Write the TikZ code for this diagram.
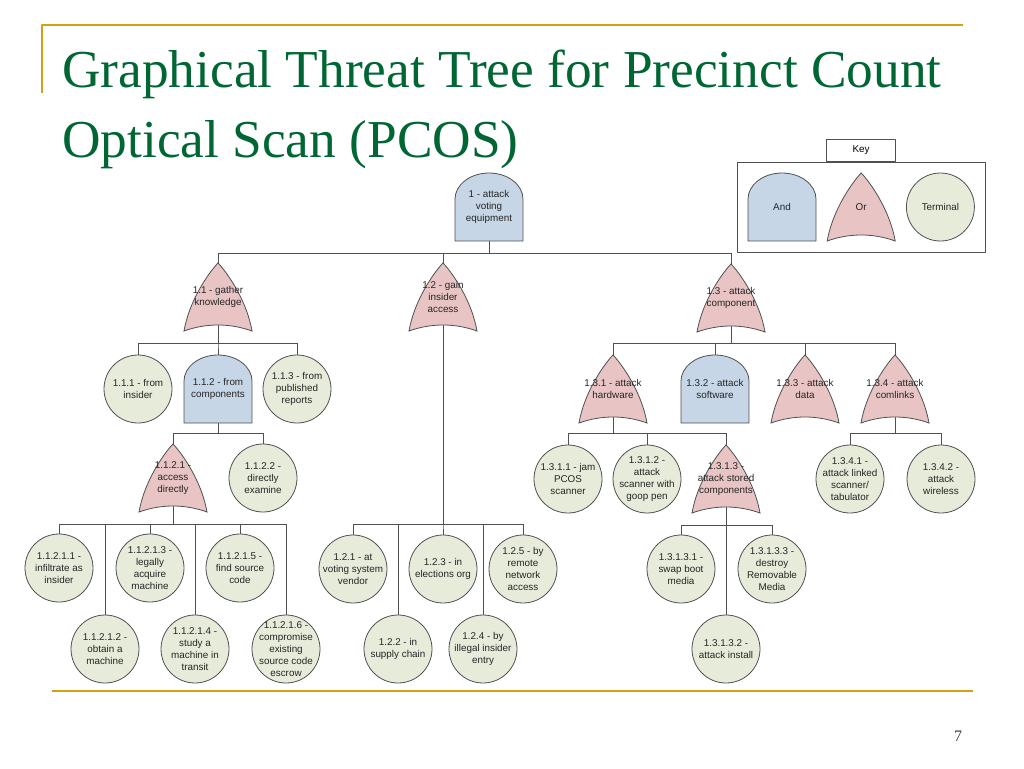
\documentclass[tikz,border=0pt]{standalone}
\usepackage{fontspec}
\setmainfont{Liberation Serif}
\setsansfont{Liberation Sans}
\usetikzlibrary{positioning,calc}
\definecolor{andblue}{RGB}{198,214,230}
\definecolor{orpink}{RGB}{232,196,196}
\definecolor{leafgreen}{RGB}{231,235,218}
\definecolor{titlegreen}{RGB}{0,102,51}
\definecolor{slidegold}{RGB}{212,160,23}
\definecolor{linegray}{RGB}{80,80,80}
\pgfdeclarelayer{back}
\pgfdeclarelayer{background}
\pgfsetlayers{back,background,main}
\tikzset{
	gate/.style     = {rectangle, minimum width=51pt, minimum height=51pt, inner sep=0pt,
		align=center, text=black!85, font=\sffamily\fontsize{7.4}{9}\selectfont},
	andnode/.style  = {gate},
	ornode/.style   = {gate},
	leafnode/.style = {gate},
	outline/.style  = {draw=linegray, line width=0.6pt},
	link/.style     = {draw=linegray, line width=0.6pt},
	goldrule/.style = {draw=slidegold, line width=1.5pt},
	title/.style    = {inner sep=0pt, text=titlegreen, font=\fontsize{40}{48}\selectfont},
	keyframe/.style = {outline, minimum width=186pt, minimum height=67.5pt, inner sep=0pt},
	keytab/.style   = {outline, minimum width=51.75pt, minimum height=16.5pt, inner sep=0pt,
		font=\sffamily\fontsize{7.4}{9}\selectfont},
	andshape/.pic   = {\draw[outline, fill=andblue] (-34,34) -- (-34,-8)
		.. controls (-34,-22) and (-19,-34) .. (0,-34)
		.. controls (19,-34) and (34,-22) .. (34,-8) -- (34,34) -- cycle;},
	orshape/.pic    = {\draw[outline, fill=orpink] (-34,34)
		.. controls (-28,0) and (-6,-28) .. (0,-34)
		.. controls (6,-28) and (28,0) .. (34,34)
		.. controls (12,26) and (-12,26) .. cycle;},
	leafshape/.pic  = {\draw[outline, fill=leafgreen] (0,0) circle[radius=25.5pt];}
}

\begin{document}
\begin{tikzpicture}[x=0.75pt, y=-0.75pt, line join=round]
	\useasboundingbox (0,0) rectangle (1024,768);
	% slide frame and title
	\draw[goldrule] (42,93) -- (42,25) -- (963,25);
	\draw[goldrule, line width=2pt] (52,691) -- (973,691);
	\node[title, anchor=base west] (title1) at (62,87) {Graphical Threat Tree for Precinct Count};
	\node[title, anchor=base west] (title2) at (62,157) {Optical Scan (PCOS)};
	\node[anchor=base, text=black!75, font=\fontsize{12}{14}\selectfont] (pagenum) at (958,741) {7};
	% key
	\node[keyframe] (keyframe) at (861,207) {};
	\node[keytab, above=0pt of keyframe] (keytab) {Key};
	\node[andnode] (keyand) at (782,207) {And};
	\node[ornode, right=8pt of keyand] (keyor) {Or};
	\node[leafnode, right=8pt of keyor] (keyterm) {Terminal};
	% root and first level
	\node[andnode] (n1) at (489,207) {1 - attack\\voting\\equipment};
	\node[ornode] (n11) at (218,297) {1.1 - gather\\knowledge};
	\node[ornode] (n12) at (443,297) {1.2 - gain\\insider\\access};
	\node[ornode] (n13) at (731,298) {1.3 - attack\\component};
	% 1.1 gather knowledge
	\node[leafnode] (n111) at (138,389) {1.1.1 - from\\insider};
	\node[andnode] (n112) at (218,389) {1.1.2 - from\\components};
	\node[leafnode] (n113) at (297,389) {1.1.3 - from\\published\\reports};
	\node[ornode] (n1121) at (173,478) {1.1.2.1 -\\access\\directly};
	\node[leafnode] (n1122) at (263,478) {1.1.2.2 -\\directly\\examine};
	\node[leafnode] (n11211) at (59,568) {1.1.2.1.1 -\\infiltrate as\\insider};
	\node[leafnode] (n11212) at (105,649) {1.1.2.1.2 -\\obtain a\\machine};
	\node[leafnode] (n11213) at (150,568) {1.1.2.1.3 -\\legally\\acquire\\machine};
	\node[leafnode] (n11214) at (195,649) {1.1.2.1.4 -\\study a\\machine in\\transit};
	\node[leafnode] (n11215) at (240,568) {1.1.2.1.5 -\\find source\\code};
	\node[leafnode] (n11216) at (286,649) {1.1.2.1.6 -\\compromise\\existing\\source code\\escrow};
	% 1.2 gain insider access
	\node[leafnode] (n121) at (353,569) {1.2.1 - at\\voting system\\vendor};
	\node[leafnode] (n122) at (398,649) {1.2.2 - in\\supply chain};
	\node[leafnode] (n123) at (443,569) {1.2.3 - in\\elections org};
	\node[leafnode] (n124) at (483,649) {1.2.4 - by\\illegal insider\\entry};
	\node[leafnode] (n125) at (523,569) {1.2.5 - by\\remote\\network\\access};
	% 1.3 attack component
	\node[ornode] (n131) at (613,389) {1.3.1 - attack\\hardware};
	\node[andnode] (n132) at (715,389) {1.3.2 - attack\\software};
	\node[ornode] (n133) at (805,389) {1.3.3 - attack\\data};
	\node[ornode] (n134) at (895,389) {1.3.4 - attack\\comlinks};
	\node[leafnode] (n1311) at (568,479) {1.3.1.1 - jam\\PCOS\\scanner};
	\node[leafnode] (n1312) at (647,479) {1.3.1.2 -\\attack\\scanner with\\goop pen};
	\node[ornode] (n1313) at (726,479) {1.3.1.3 -\\attack stored\\components};
	\node[leafnode] (n13131) at (681,569) {1.3.1.3.1 -\\swap boot\\media};
	\node[leafnode] (n13132) at (726,649) {1.3.1.3.2 -\\attack install};
	\node[leafnode] (n13133) at (772,569) {1.3.1.3.3 -\\destroy\\Removable\\Media};
	\node[leafnode] (n1341) at (850,479) {1.3.4.1 -\\attack linked\\scanner/\\tabulator};
	\node[leafnode] (n1342) at (941,479) {1.3.4.2 -\\attack\\wireless};
	% gate outlines behind the labels
	\begin{pgfonlayer}{background}
		\foreach \n in {n1,n112,n132,keyand}
		\pic at (\n) {andshape};
		\foreach \n in {n11,n12,n13,n1121,n131,n133,n134,n1313,keyor}
		\pic at (\n) {orshape};
		\foreach \n in {n111,n113,n1122,n11211,n11212,n11213,n11214,n11215,n11216,
			n121,n122,n123,n124,n125,n1311,n1312,n13131,n13132,n13133,n1341,n1342,keyterm}
		\pic at (\n) {leafshape};
	\end{pgfonlayer}
	% tree edges
	\begin{pgfonlayer}{back}
		\foreach \c in {11,12,13}
		\draw[link] (n1.center) -- ++(0,46) -| (n\c.north);
		\foreach \c in {111,112,113}
		\draw[link] (n11.center) -- ++(0,46) -| (n\c.north);
		\foreach \c in {1121,1122}
		\draw[link] (n112.center) -- ++(0,44) -| (n\c.north);
		\foreach \c in {11211,...,11216}
		\draw[link] (n1121.center) -- ++(0,46) -| (n\c.north);
		\foreach \c in {121,...,125}
		\draw[link] (n12.center) -- ++(0,227) -| (n\c.north);
		\foreach \c in {131,...,134}
		\draw[link] (n13.center) -- ++(0,45) -| (n\c.north);
		\foreach \c in {1311,1312,1313}
		\draw[link] (n131.center) -- ++(0,44) -| (n\c.north);
		\foreach \c in {13131,13132,13133}
		\draw[link] (n1313.center) -- ++(0,46) -| (n\c.north);
		\foreach \c in {1341,1342}
		\draw[link] (n134.center) -- ++(0,44) -| (n\c.north);
	\end{pgfonlayer}
\end{tikzpicture}
\end{document}
